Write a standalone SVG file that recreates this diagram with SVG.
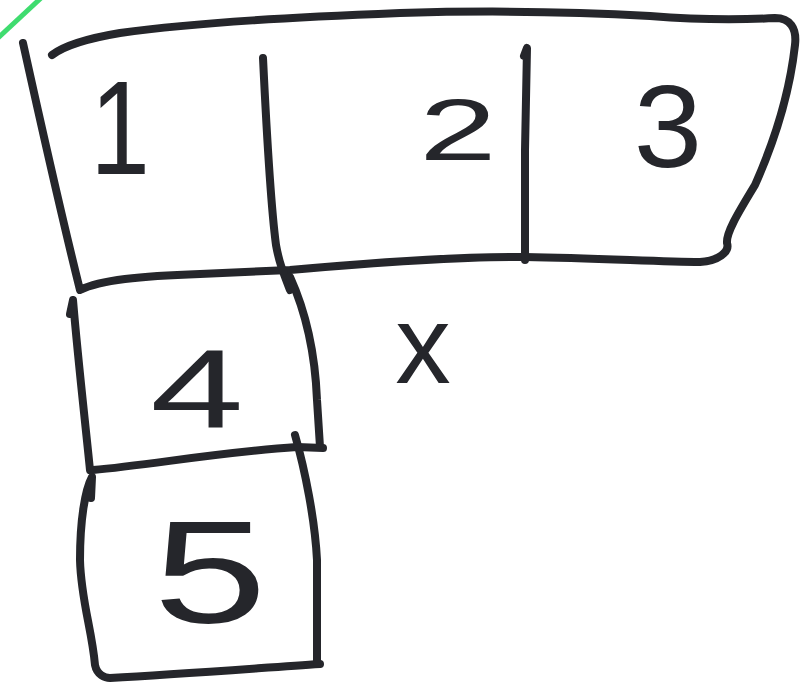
<svg xmlns="http://www.w3.org/2000/svg" width="806" height="687" viewBox="0 0 806 687">
<style>
.ink{fill:none;stroke:#25262b;stroke-width:8;stroke-linecap:round;stroke-linejoin:round}
.lbl{fill:#25262b;font-family:"Liberation Sans","DejaVu Sans",sans-serif;text-anchor:middle}
</style>
<rect width="806" height="687" fill="#ffffff"/>
<path d="M-2,38 L41,-2" fill="none" stroke="#3fdc6f" stroke-width="5"/>
<g id="connectors">
<path class="ink" d="M23,43 C40,120 60,210 80,290 C100,280 140,276 200,274 L290,270 C380,262 460,256 525,257 C600,258 660,262 700,262 C718,261 730,252 727,243 C726,232 740,210 755,185 C775,140 790,90 795,45 C797,28 790,18 775,18 C740,20 700,20 650,16 C580,12 500,10 400,13 C300,17 200,22 120,33 C90,38 65,45 52,55"/>
<path class="ink" d="M263,58 C266,120 270,200 276,245 C279,262 283,272 290,290"/>
<path class="ink" d="M524,56 L527,48 L525,150 L525,260"/>
<path class="ink" d="M70,314 L73,300 C78,360 85,420 90,470"/>
<path class="ink" d="M290,277 C305,310 315,350 317,400 L320,447"/>
<path class="ink" d="M93,470 C150,465 220,452 297,447 L323,448"/>
<path class="ink" d="M91,498 L92,477 C85,490 80,520 80,560 C81,600 92,630 95,665 C97,675 105,678 110,678 C180,674 260,668 320,664"/>
<path class="ink" d="M295,435 C305,470 315,520 317,560 L317,663"/>
</g>
<g id="cell-1"><text class="lbl" transform="translate(120,174) scale(0.8,1)" font-size="134">1</text></g>
<g id="cell-2"><text class="lbl" transform="translate(458,160) scale(1.6,1)" font-size="87">2</text></g>
<g id="cell-3"><text class="lbl" transform="translate(668,167) scale(1.05,1)" font-size="117">3</text></g>
<g id="cell-4"><text class="lbl" transform="translate(197,427) scale(1.5,1)" font-size="112">4</text></g>
<g id="cell-5"><text class="lbl" transform="translate(210,623) scale(1.4,1)" font-size="146">5</text></g>
<g id="mark-x"><text class="lbl" x="423" y="383" font-size="111">x</text></g>
</svg>
